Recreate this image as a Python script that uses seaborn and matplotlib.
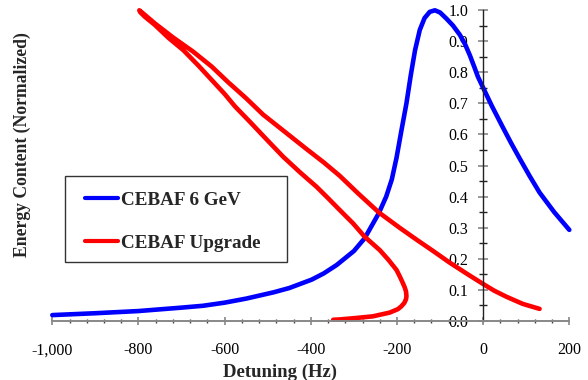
import numpy as np
import pandas as pd
import matplotlib
matplotlib.use("Agg")
import matplotlib.pyplot as plt
from matplotlib.ticker import MultipleLocator, FixedLocator, FuncFormatter
from matplotlib.patches import Rectangle
import seaborn as sns

sns.set_theme(style="white")
plt.rcParams['font.family'] = ['Liberation Serif', 'DejaVu Serif']

series_names = ["CEBAF 6 GeV", "CEBAF Upgrade"]

blue_hz = [-1000, -900, -800, -700, -650, -600, -550, -487, -450, -398, -370, -340,
           -300, -275, -242, -225, -212, -201, -190, -178, -168, -158, -147, -136,
           -124, -112, -100, -85, -70, -54, -42, -31, -20, -12,
           0, 20, 46, 65, 85, 108, 131, 165, 200]
blue_val = [0.019, 0.025, 0.032, 0.043, 0.049, 0.059, 0.072, 0.092, 0.106, 0.133, 0.153, 0.18,
            0.225, 0.266, 0.347, 0.40, 0.455, 0.525, 0.61, 0.70, 0.79, 0.871, 0.936, 0.974,
            0.994, 0.999, 0.992, 0.972, 0.95, 0.92, 0.89, 0.855, 0.815, 0.785,
            0.75, 0.692, 0.622, 0.572, 0.522, 0.466, 0.413, 0.35, 0.293]

red_hz = [-348, -333, -300, -256, -217, -198, -190, -183, -179, -178, -179, -182, -186,
          -193, -201, -220, -240, -275, -302, -333, -360, -387, -425, -464, -500, -541,
          -576, -600, -630, -660, -696, -730, -762, -785, -796, -798, -790, -762, -720,
          -673, -630, -592, -550, -511, -460, -410, -370, -333, -290, -242, -194, -155,
          -116, -78, -39, 0, 25, 54, 92, 131]
red_val = [0.004, 0.005, 0.009, 0.015, 0.027, 0.038, 0.047, 0.058, 0.07, 0.08, 0.095, 0.108,
           0.121, 0.142, 0.164, 0.197, 0.228, 0.271, 0.314, 0.357, 0.395, 0.432, 0.478,
           0.528, 0.58, 0.64, 0.69, 0.73, 0.775, 0.82, 0.871, 0.91, 0.952, 0.978, 0.993,
           0.999, 0.99, 0.957, 0.912, 0.866, 0.818, 0.768, 0.716, 0.664, 0.608, 0.553,
           0.51, 0.467, 0.41, 0.349, 0.300, 0.262, 0.225, 0.188, 0.153, 0.119, 0.098,
           0.078, 0.055, 0.039]

x_ticks = [-1000, -800, -600, -400, -200, 0, 200]
y_ticks = [0.0, 0.1, 0.2, 0.3, 0.4, 0.5, 0.6, 0.7, 0.8, 0.9, 1.0]

df = pd.concat([
    pd.DataFrame({"Detuning": blue_hz, "Energy": blue_val, "Series": series_names[0]}),
    pd.DataFrame({"Detuning": red_hz, "Energy": red_val, "Series": series_names[1]}),
], ignore_index=True)

W, H = 588, 380
fig = plt.figure(figsize=(W / 100, H / 100), dpi=100)
fig.patch.set_facecolor("white")
ax = fig.add_axes([52.3 / W, 1 - 321 / H, (569.3 - 52.3) / W, 311 / H])
ax.set_facecolor("white")

sns.lineplot(data=df, x="Detuning", y="Energy", hue="Series", hue_order=series_names,
             palette=["#0000FF", "#FF0000"], sort=False, estimator=None,
             linewidth=3.3, ax=ax)
for ln in ax.lines:
    ln.set_clip_on(False)
    ln.set_solid_capstyle("round")
    ln.set_solid_joinstyle("round")

ax.set_xlim(-1000, 200)
ax.set_ylim(0, 1.0)

ax.xaxis.set_major_locator(FixedLocator(x_ticks))
ax.xaxis.set_minor_locator(MultipleLocator(40))
ax.yaxis.set_major_locator(FixedLocator(y_ticks))
ax.yaxis.set_minor_locator(MultipleLocator(0.05))
ax.xaxis.set_major_formatter(FuncFormatter(lambda v, p: f"{int(round(v)):,}"))
ax.yaxis.set_major_formatter(FuncFormatter(lambda v, p: f"{v:.1f}"))

for s in ["top", "right"]:
    ax.spines[s].set_visible(False)
ax.spines["left"].set_position(("data", 0))
ax.spines["left"].set_color("#222222")
ax.spines["left"].set_linewidth(1.0)
ax.spines["bottom"].set_color("#888888")
ax.spines["bottom"].set_linewidth(1.4)

ax.tick_params(axis="x", which="major", direction="inout", length=5.5, width=1.2,
               color="#888888", labelsize=11.5, pad=12.5, labelcolor="black")
ax.tick_params(axis="x", which="minor", direction="inout", length=3, width=1.0,
               color="#444444")
ax.tick_params(axis="y", which="major", direction="inout", length=7, width=1.2,
               color="#888888", labelsize=11.5, pad=7.0, labelcolor="black")
ax.tick_params(axis="y", which="minor", direction="inout", length=6, width=1.0,
               color="#222222")
ax.tick_params(left=True, bottom=True, which="both")

ax.set_xlabel("Detuning (Hz)", fontsize=13.5, fontweight="bold")
ax.set_ylabel("Energy Content (Normalized)", fontsize=12.7, fontweight="bold")
ax.xaxis.set_label_coords((280 - 52.3) / 517, (321 - 364) / 311)
ax.yaxis.set_label_coords((31 - 52.3) / 517, (321 - 144.5) / 311)

# legend: content anchored at handle start / first row top, frame drawn separately
sns.move_legend(ax, "upper left", bbox_to_anchor=(85 / W, 1 - 191.5 / H),
                bbox_transform=fig.transFigure,
                title=None, frameon=False, borderaxespad=0, borderpad=0,
                prop={"family": "Liberation Serif", "weight": "bold", "size": 13.8},
                handlelength=1.72, handletextpad=0.18, labelspacing=1.33)
leg = ax.get_legend()
for h in leg.get_lines():
    h.set_linewidth(3.0)
fig.add_artist(Rectangle((65 / W, 1 - 262 / H), 222 / W, 86 / H,
                         transform=fig.transFigure, fill=False,
                         edgecolor="#333333", linewidth=1.0, zorder=1))

fig.savefig("out.png", dpi=100, facecolor="white")
